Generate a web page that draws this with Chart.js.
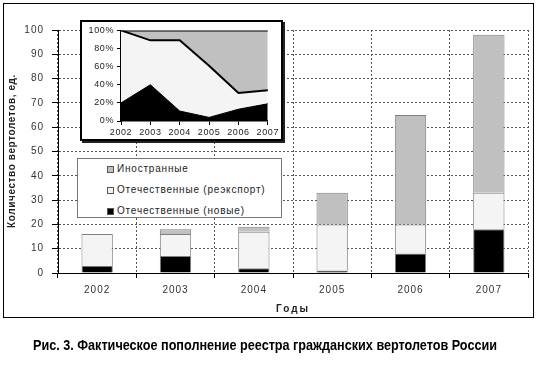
<!DOCTYPE html>
<html><head><meta charset="utf-8">
<script src="https://cdn.jsdelivr.net/npm/chart.js@4"></script>
<style>
html,body{margin:0;padding:0;background:#fff;}
#wrap{position:relative;width:539px;height:370px;overflow:hidden;}
#main{position:absolute;left:0;top:0;}
#insetBox{position:absolute;left:80px;top:20px;width:199px;height:117px;border:2px solid #000;box-shadow:2px 2px 0 #222;background:#fff;}
#inset{position:absolute;left:0;top:0;}
#legend{position:absolute;left:77px;top:158px;width:203px;height:58px;border:1px solid #777;background:#fff;font:10px "Liberation Sans",Arial,sans-serif;letter-spacing:0.8px;color:#222;}
.row{position:absolute;left:29px;height:12px;line-height:12px;white-space:nowrap;}
.sw{display:inline-block;width:5px;height:5px;border:1px solid #555;margin-right:3px;vertical-align:-1px;}
</style>
</head><body>
<div id="wrap">
  <canvas id="main" width="539" height="370"></canvas>
  <div id="insetBox"><canvas id="inset" width="199" height="117"></canvas></div>
  <div id="legend"></div>
</div>
<script>
// ---- data ----
const years = ['2002','2003','2004','2005','2006','2007'];
const domesticNew = [3, 7, 2, 1, 8, 18];
const domesticReexport = [13, 9, 15, 19, 12, 15];
const foreign = [0, 2, 2, 13, 45, 65];
const insetNewPct = [20, 40, 11, 4, 13, 19];
const insetReexportPct = [80, 49, 78, 57, 18, 15];
const insetForeignPct = [0, 11, 11, 39, 69, 66];
const seriesNames = ['Иностранные', 'Отечественные (реэкспорт)', 'Отечественные (новые)'];
const seriesColors = ['#c0c0c0', '#f4f4f4', '#000000'];
const yAxisTitle = 'Количество вертолетов, ед.';
const xAxisTitle = 'Годы';
const caption = 'Рис. 3. Фактическое пополнение реестра гражданских вертолетов России';

const FONT = '"Liberation Sans", Arial, sans-serif';

function spacing(px){
  return {
    id:'spacing'+px,
    beforeInit(c){c.ctx.letterSpacing=px+'px';},
    beforeLayout(c){c.ctx.letterSpacing=px+'px';},
    beforeDraw(c){c.ctx.letterSpacing=px+'px';}
  };
}

const decor = {
  id:'decor',
  beforeDraw(c){
    const ctx=c.ctx;
    ctx.save();
    ctx.fillStyle='#fff';
    ctx.fillRect(0,0,c.width,c.height);
    ctx.restore();
  },
  afterDraw(c){
    const ctx=c.ctx;
    ctx.save();
    ctx.strokeStyle='#000';
    ctx.lineWidth=1;
    ctx.strokeRect(3.5,3.5,530,314);
    ctx.fillStyle='#222';
    // y title
    ctx.save();
    ctx.translate(12,151);
    ctx.rotate(-Math.PI/2);
    ctx.letterSpacing='0.6px';
    ctx.font='bold 10px '+FONT;
    ctx.textAlign='center';
    ctx.textBaseline='middle';
    ctx.fillText(yAxisTitle,0,0);
    ctx.restore();
    // x title
    ctx.letterSpacing='2px';
    ctx.font='bold 10px '+FONT;
    ctx.textAlign='center';
    ctx.textBaseline='middle';
    ctx.fillText(xAxisTitle,293,309);
    // caption
    ctx.letterSpacing='0px';
    ctx.fillStyle='#000';
    ctx.font='bold 15px "Liberation Sans Narrow", "Arial Narrow", '+FONT;
    ctx.textBaseline='alphabetic';
    ctx.fillText(caption,265,350,464);
    ctx.restore();
  }
};

new Chart(document.getElementById('main'), {
  type:'bar',
  data:{
    labels:years,
    datasets:[
      {label:seriesNames[2], data:domesticNew, backgroundColor:seriesColors[2]},
      {label:seriesNames[1], data:domesticReexport, backgroundColor:seriesColors[1]},
      {label:seriesNames[0], data:foreign, backgroundColor:seriesColors[0]}
    ].map(d=>Object.assign(d,{borderColor:'#808080', borderWidth:1, barPercentage:0.4, categoryPercentage:1}))
  },
  options:{
    responsive:false, animation:false, devicePixelRatio:1,
    layout:{padding:{left:0,right:11,top:30,bottom:60}},
    plugins:{legend:{display:false}, tooltip:{enabled:false}},
    scales:{
      x:{stacked:true,
        grid:{offset:true, color:'#555', tickLength:5, tickColor:'#000', tickWidth:1},
        border:{color:'#000', width:1, dash:[2,2]},
        ticks:{font:{size:10, family:FONT}, color:'#333', padding:6, maxRotation:0},
        afterFit(s){s.height=37;}
      },
      y:{stacked:true, min:0, max:100,
        grid:{color:'#555', tickLength:6, tickColor:'#000', tickWidth:1},
        border:{color:'#000', width:1, dash:[2,2]},
        ticks:{stepSize:10, font:{size:10, family:FONT}, color:'#333', padding:8},
        afterFit(s){s.width=58;}
      }
    }
  },
  plugins:[spacing(1), decor]
});

new Chart(document.getElementById('inset'), {
  type:'line',
  data:{
    labels:years,
    datasets:[
      {data:insetNewPct, fill:'origin', backgroundColor:seriesColors[2], borderColor:'#000', borderWidth:1},
      {data:insetReexportPct, fill:'-1', backgroundColor:seriesColors[1], borderColor:'#000', borderWidth:2},
      {data:insetForeignPct, fill:'-1', backgroundColor:seriesColors[0], borderColor:'#000', borderWidth:2}
    ].map(d=>Object.assign(d,{pointRadius:0, tension:0}))
  },
  options:{
    responsive:false, animation:false, devicePixelRatio:1,
    layout:{padding:{left:0,right:9,top:8,bottom:0}},
    plugins:{legend:{display:false}, tooltip:{enabled:false}},
    scales:{
      x:{offset:false,
        grid:{drawOnChartArea:false, tickLength:4, tickColor:'#000'},
        border:{color:'#000', width:1.5},
        ticks:{font:{size:9, family:FONT}, color:'#222', padding:2, maxRotation:0, autoSkip:false},
        afterFit(s){s.height=18;}
      },
      y:{stacked:true, min:0, max:100,
        grid:{drawOnChartArea:false, tickLength:4, tickColor:'#000'},
        border:{color:'#000', width:1.5},
        ticks:{stepSize:20, callback:v=>v+'%', font:{size:9, family:FONT}, color:'#222', padding:3},
        afterFit(s){s.width=39;}
      }
    }
  },
  plugins:[spacing(0.6)]
});

// legend (HTML text)
const legend=document.getElementById('legend');
const tops=[4,25,46];
seriesNames.forEach((n,i)=>{
  const r=document.createElement('div');
  r.className='row'; r.style.top=tops[i]+'px';
  const sw=document.createElement('span'); sw.className='sw'; sw.style.background=seriesColors[i];
  r.appendChild(sw); r.appendChild(document.createTextNode(n));
  legend.appendChild(r);
});
</script>
</body></html>
